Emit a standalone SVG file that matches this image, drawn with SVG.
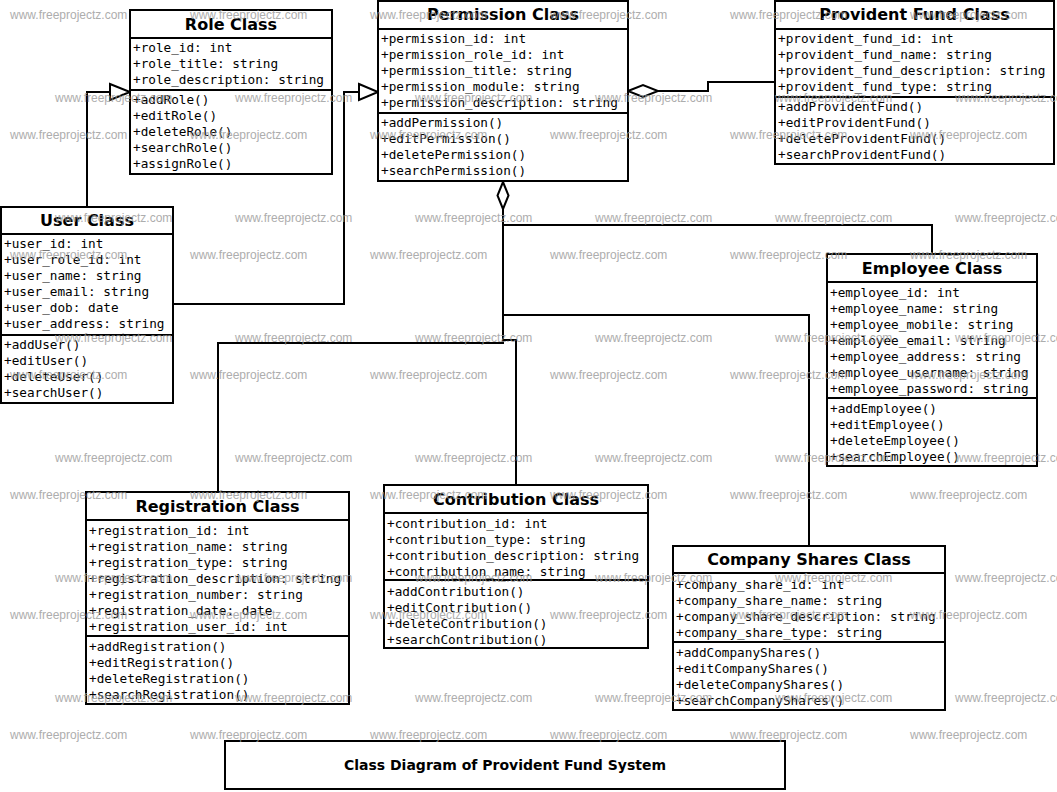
<svg xmlns="http://www.w3.org/2000/svg" width="1057" height="792" viewBox="0 0 1057 792">
<style>
.box{fill:#fff;stroke:#000;stroke-width:2}
.sep{stroke:#000;stroke-width:2}
.t{font-family:"DejaVu Sans","Liberation Sans",sans-serif;font-weight:bold;font-size:16px;text-anchor:middle;fill:#000}
.m{font-family:"DejaVu Sans Mono","Liberation Mono",monospace;font-size:12.7px;fill:#000}
.conn{fill:none;stroke:#000;stroke-width:2}
.head{fill:#fff;stroke:#000;stroke-width:2}
.wm{font-family:"Liberation Sans",Arial,sans-serif;font-size:12px;fill:#999;opacity:0.8}
.cap{font-family:"DejaVu Sans","Liberation Sans",sans-serif;font-weight:bold;font-size:14px;text-anchor:middle;fill:#000}
</style>
<rect width="1057" height="792" fill="#fff"/>

<g id="connectors">
  <path class="conn" d="M87,207 V92 H110"/>
  <polygon class="head" points="110,84 130,92 110,100"/>
  <path class="conn" d="M173,304 H344 V92 H359"/>
  <polygon class="head" points="359,84 378,92 359,100"/>
  <path class="conn" d="M658,91 H708 V82 H775"/>
  <polygon class="head" points="628,91 643,85 658,91 643,97"/>
  <path class="conn" d="M503,209 V225 H932 V254"/>
  <path class="conn" d="M503,209 V315 H809 V546"/>
  <path class="conn" d="M503,209 V343 H218 V492"/>
  <path class="conn" d="M503,209 V340 H516 V485"/>
  <polygon class="head" points="503,182 508.5,195.5 503,209 497.5,195.5"/>
</g>

<g id="role">
  <rect class="box" x="130" y="10" width="202" height="164"/>
  <line class="sep" x1="130" y1="38" x2="332" y2="38"/>
  <line class="sep" x1="130" y1="90" x2="332" y2="90"/>
  <text class="t" x="231" y="29.5">Role Class</text>
  <text class="m" x="133" y="52.3">+role_id: int</text>
  <text class="m" x="133" y="68.3">+role_title: string</text>
  <text class="m" x="133" y="84.3">+role_description: string</text>
  <text class="m" x="133" y="104.3">+addRole()</text>
  <text class="m" x="133" y="120.3">+editRole()</text>
  <text class="m" x="133" y="136.3">+deleteRole()</text>
  <text class="m" x="133" y="152.3">+searchRole()</text>
  <text class="m" x="133" y="168.3">+assignRole()</text>
</g>

<g id="permission">
  <rect class="box" x="378" y="1" width="250" height="180"/>
  <line class="sep" x1="378" y1="29" x2="628" y2="29"/>
  <line class="sep" x1="378" y1="113" x2="628" y2="113"/>
  <text class="t" x="503" y="20">Permission Class</text>
  <text class="m" x="381" y="43.3">+permission_id: int</text>
  <text class="m" x="381" y="59.3">+permission_role_id: int</text>
  <text class="m" x="381" y="75.3">+permission_title: string</text>
  <text class="m" x="381" y="91.3">+permission_module: string</text>
  <text class="m" x="381" y="107.3">+permission_description: string</text>
  <text class="m" x="381" y="127.3">+addPermission()</text>
  <text class="m" x="381" y="143.3">+editPermission()</text>
  <text class="m" x="381" y="159.3">+deletePermission()</text>
  <text class="m" x="381" y="175.3">+searchPermission()</text>
</g>

<g id="providentfund">
  <rect class="box" x="775" y="1" width="279" height="163"/>
  <line class="sep" x1="775" y1="29" x2="1054" y2="29"/>
  <line class="sep" x1="775" y1="97" x2="1054" y2="97"/>
  <text class="t" x="914.5" y="20">Provident Fund Class</text>
  <text class="m" x="778" y="43.3">+provident_fund_id: int</text>
  <text class="m" x="778" y="59.3">+provident_fund_name: string</text>
  <text class="m" x="778" y="75.3">+provident_fund_description: string</text>
  <text class="m" x="778" y="91.3">+provident_fund_type: string</text>
  <text class="m" x="778" y="111.3">+addProvidentFund()</text>
  <text class="m" x="778" y="127.3">+editProvidentFund()</text>
  <text class="m" x="778" y="143.3">+deleteProvidentFund()</text>
  <text class="m" x="778" y="159.3">+searchProvidentFund()</text>
</g>

<g id="user">
  <rect class="box" x="1" y="207" width="172" height="196"/>
  <line class="sep" x1="1" y1="234" x2="173" y2="234"/>
  <line class="sep" x1="1" y1="335" x2="173" y2="335"/>
  <text class="t" x="87" y="226">User Class</text>
  <text class="m" x="4" y="248.3">+user_id: int</text>
  <text class="m" x="4" y="264.3">+user_role_id: int</text>
  <text class="m" x="4" y="280.3">+user_name: string</text>
  <text class="m" x="4" y="296.3">+user_email: string</text>
  <text class="m" x="4" y="312.3">+user_dob: date</text>
  <text class="m" x="4" y="328.3">+user_address: string</text>
  <text class="m" x="4" y="349.3">+addUser()</text>
  <text class="m" x="4" y="365.3">+editUser()</text>
  <text class="m" x="4" y="381.3">+deleteUser()</text>
  <text class="m" x="4" y="397.3">+searchUser()</text>
</g>

<g id="employee">
  <rect class="box" x="827" y="254" width="210" height="212"/>
  <line class="sep" x1="827" y1="282" x2="1037" y2="282"/>
  <line class="sep" x1="827" y1="398" x2="1037" y2="398"/>
  <text class="t" x="932" y="274">Employee Class</text>
  <text class="m" x="830" y="297">+employee_id: int</text>
  <text class="m" x="830" y="313">+employee_name: string</text>
  <text class="m" x="830" y="329">+employee_mobile: string</text>
  <text class="m" x="830" y="345">+employee_email: string</text>
  <text class="m" x="830" y="361">+employee_address: string</text>
  <text class="m" x="830" y="377">+employee_username: string</text>
  <text class="m" x="830" y="393">+employee_password: string</text>
  <text class="m" x="830" y="413">+addEmployee()</text>
  <text class="m" x="830" y="429">+editEmployee()</text>
  <text class="m" x="830" y="445">+deleteEmployee()</text>
  <text class="m" x="830" y="461">+searchEmployee()</text>
</g>

<g id="registration">
  <rect class="box" x="86" y="492" width="263" height="212"/>
  <line class="sep" x1="86" y1="520" x2="349" y2="520"/>
  <line class="sep" x1="86" y1="636" x2="349" y2="636"/>
  <text class="t" x="217.5" y="511.5">Registration Class</text>
  <text class="m" x="89" y="534.5">+registration_id: int</text>
  <text class="m" x="89" y="550.5">+registration_name: string</text>
  <text class="m" x="89" y="566.5">+registration_type: string</text>
  <text class="m" x="89" y="582.5">+registration_description: string</text>
  <text class="m" x="89" y="598.5">+registration_number: string</text>
  <text class="m" x="89" y="614.5">+registration_date: date</text>
  <text class="m" x="89" y="630.5">+registration_user_id: int</text>
  <text class="m" x="89" y="650.5">+addRegistration()</text>
  <text class="m" x="89" y="666.5">+editRegistration()</text>
  <text class="m" x="89" y="682.5">+deleteRegistration()</text>
  <text class="m" x="89" y="698.5">+searchRegistration()</text>
</g>

<g id="contribution">
  <rect class="box" x="384" y="485" width="264" height="163"/>
  <line class="sep" x1="384" y1="513" x2="648" y2="513"/>
  <line class="sep" x1="384" y1="580" x2="648" y2="580"/>
  <text class="t" x="516" y="504.5">Contribution Class</text>
  <text class="m" x="387" y="527.5">+contribution_id: int</text>
  <text class="m" x="387" y="543.5">+contribution_type: string</text>
  <text class="m" x="387" y="559.5">+contribution_description: string</text>
  <text class="m" x="387" y="575.5">+contribution_name: string</text>
  <text class="m" x="387" y="595.5">+addContribution()</text>
  <text class="m" x="387" y="611.5">+editContribution()</text>
  <text class="m" x="387" y="627.5">+deleteContribution()</text>
  <text class="m" x="387" y="643.5">+searchContribution()</text>
</g>

<g id="companyshares">
  <rect class="box" x="673" y="546" width="272" height="164"/>
  <line class="sep" x1="673" y1="573" x2="945" y2="573"/>
  <line class="sep" x1="673" y1="642" x2="945" y2="642"/>
  <text class="t" x="809" y="565">Company Shares Class</text>
  <text class="m" x="676" y="588.5">+company_share_id: int</text>
  <text class="m" x="676" y="604.5">+company_share_name: string</text>
  <text class="m" x="676" y="620.5">+company_share_description: string</text>
  <text class="m" x="676" y="636.5">+company_share_type: string</text>
  <text class="m" x="676" y="656.5">+addCompanyShares()</text>
  <text class="m" x="676" y="672.5">+editCompanyShares()</text>
  <text class="m" x="676" y="688.5">+deleteCompanyShares()</text>
  <text class="m" x="676" y="704.5">+searchCompanyShares()</text>
</g>

<g id="title">
  <rect class="box" x="225" y="741" width="560" height="48"/>
  <text class="cap" x="505" y="770">Class Diagram of Provident Fund System</text>
</g>

<g id="watermark">
  <text class="wm" x="10" y="19">www.freeprojectz.com</text>
  <text class="wm" x="190" y="19">www.freeprojectz.com</text>
  <text class="wm" x="370" y="19">www.freeprojectz.com</text>
  <text class="wm" x="550" y="19">www.freeprojectz.com</text>
  <text class="wm" x="730" y="19">www.freeprojectz.com</text>
  <text class="wm" x="910" y="19">www.freeprojectz.com</text>
  <text class="wm" x="55" y="102">www.freeprojectz.com</text>
  <text class="wm" x="235" y="102">www.freeprojectz.com</text>
  <text class="wm" x="415" y="102">www.freeprojectz.com</text>
  <text class="wm" x="595" y="102">www.freeprojectz.com</text>
  <text class="wm" x="775" y="102">www.freeprojectz.com</text>
  <text class="wm" x="955" y="102">www.freeprojectz.com</text>
  <text class="wm" x="10" y="139">www.freeprojectz.com</text>
  <text class="wm" x="190" y="139">www.freeprojectz.com</text>
  <text class="wm" x="370" y="139">www.freeprojectz.com</text>
  <text class="wm" x="550" y="139">www.freeprojectz.com</text>
  <text class="wm" x="730" y="139">www.freeprojectz.com</text>
  <text class="wm" x="910" y="139">www.freeprojectz.com</text>
  <text class="wm" x="55" y="222">www.freeprojectz.com</text>
  <text class="wm" x="235" y="222">www.freeprojectz.com</text>
  <text class="wm" x="415" y="222">www.freeprojectz.com</text>
  <text class="wm" x="595" y="222">www.freeprojectz.com</text>
  <text class="wm" x="775" y="222">www.freeprojectz.com</text>
  <text class="wm" x="955" y="222">www.freeprojectz.com</text>
  <text class="wm" x="10" y="259">www.freeprojectz.com</text>
  <text class="wm" x="190" y="259">www.freeprojectz.com</text>
  <text class="wm" x="370" y="259">www.freeprojectz.com</text>
  <text class="wm" x="550" y="259">www.freeprojectz.com</text>
  <text class="wm" x="730" y="259">www.freeprojectz.com</text>
  <text class="wm" x="910" y="259">www.freeprojectz.com</text>
  <text class="wm" x="55" y="342">www.freeprojectz.com</text>
  <text class="wm" x="235" y="342">www.freeprojectz.com</text>
  <text class="wm" x="415" y="342">www.freeprojectz.com</text>
  <text class="wm" x="595" y="342">www.freeprojectz.com</text>
  <text class="wm" x="775" y="342">www.freeprojectz.com</text>
  <text class="wm" x="955" y="342">www.freeprojectz.com</text>
  <text class="wm" x="10" y="379">www.freeprojectz.com</text>
  <text class="wm" x="190" y="379">www.freeprojectz.com</text>
  <text class="wm" x="370" y="379">www.freeprojectz.com</text>
  <text class="wm" x="550" y="379">www.freeprojectz.com</text>
  <text class="wm" x="730" y="379">www.freeprojectz.com</text>
  <text class="wm" x="910" y="379">www.freeprojectz.com</text>
  <text class="wm" x="55" y="462">www.freeprojectz.com</text>
  <text class="wm" x="235" y="462">www.freeprojectz.com</text>
  <text class="wm" x="415" y="462">www.freeprojectz.com</text>
  <text class="wm" x="595" y="462">www.freeprojectz.com</text>
  <text class="wm" x="775" y="462">www.freeprojectz.com</text>
  <text class="wm" x="955" y="462">www.freeprojectz.com</text>
  <text class="wm" x="10" y="499">www.freeprojectz.com</text>
  <text class="wm" x="190" y="499">www.freeprojectz.com</text>
  <text class="wm" x="370" y="499">www.freeprojectz.com</text>
  <text class="wm" x="550" y="499">www.freeprojectz.com</text>
  <text class="wm" x="730" y="499">www.freeprojectz.com</text>
  <text class="wm" x="910" y="499">www.freeprojectz.com</text>
  <text class="wm" x="55" y="582">www.freeprojectz.com</text>
  <text class="wm" x="235" y="582">www.freeprojectz.com</text>
  <text class="wm" x="415" y="582">www.freeprojectz.com</text>
  <text class="wm" x="595" y="582">www.freeprojectz.com</text>
  <text class="wm" x="775" y="582">www.freeprojectz.com</text>
  <text class="wm" x="955" y="582">www.freeprojectz.com</text>
  <text class="wm" x="10" y="619">www.freeprojectz.com</text>
  <text class="wm" x="190" y="619">www.freeprojectz.com</text>
  <text class="wm" x="370" y="619">www.freeprojectz.com</text>
  <text class="wm" x="550" y="619">www.freeprojectz.com</text>
  <text class="wm" x="730" y="619">www.freeprojectz.com</text>
  <text class="wm" x="910" y="619">www.freeprojectz.com</text>
  <text class="wm" x="55" y="702">www.freeprojectz.com</text>
  <text class="wm" x="235" y="702">www.freeprojectz.com</text>
  <text class="wm" x="415" y="702">www.freeprojectz.com</text>
  <text class="wm" x="595" y="702">www.freeprojectz.com</text>
  <text class="wm" x="775" y="702">www.freeprojectz.com</text>
  <text class="wm" x="955" y="702">www.freeprojectz.com</text>
  <text class="wm" x="10" y="739">www.freeprojectz.com</text>
  <text class="wm" x="190" y="739">www.freeprojectz.com</text>
  <text class="wm" x="370" y="739">www.freeprojectz.com</text>
  <text class="wm" x="550" y="739">www.freeprojectz.com</text>
  <text class="wm" x="730" y="739">www.freeprojectz.com</text>
  <text class="wm" x="910" y="739">www.freeprojectz.com</text>
</g>
</svg>
